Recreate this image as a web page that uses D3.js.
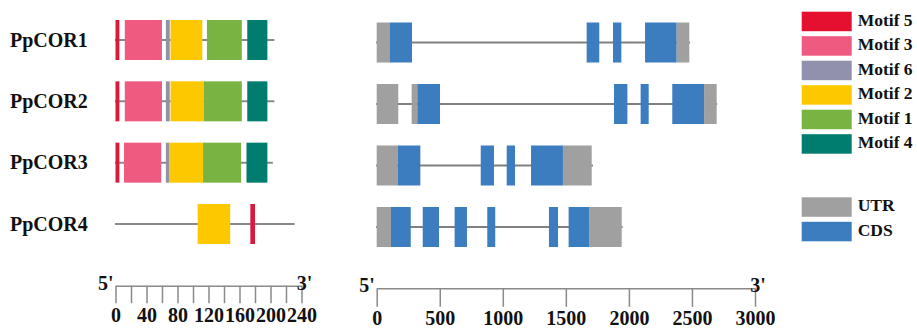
<!DOCTYPE html>
<html>
<head>
<meta charset="utf-8">
<title>PpCOR motifs and gene structure</title>
<style>
body { margin:0; background:#fff; }
text { font-family: "Liberation Serif", "Times New Roman", serif; font-weight:bold; fill:#111; }
</style>
</head>
<body>
<svg></svg>
<script src="https://cdn.jsdelivr.net/npm/d3@7/dist/d3.min.js"></script>
<script>

var w = 917, h = 329;

// ---- data ----
var genes = ["PpCOR1", "PpCOR2", "PpCOR3", "PpCOR4"];

// protein length (aa)
var protLen = [205, 205, 203, 231];

var motifNames  = ["Motif 5", "Motif 3", "Motif 6", "Motif 2", "Motif 1", "Motif 4"];
var motifColors = ["#e5102f", "#ef5a80", "#9190ad", "#fdc800", "#79b443", "#007d6e"];

// motif sites per protein: [motif index, start aa, end aa]
var motifs1 = [[0, 0, 5], [1, 12, 60], [2, 65, 70], [3, 71, 112], [4, 118, 163], [5, 170, 196]];
var motifs2 = [[0, 0, 5], [1, 12, 60], [2, 65, 70], [3, 71, 114], [4, 114, 163], [5, 170, 196]];
var motifs3 = [[0, 0, 5], [1, 11, 59], [2, 65, 69], [3, 69, 113], [4, 113, 162], [5, 169, 196]];
var motifs4 = [[3, 106, 148], [0, 174, 180]];
var motifSites = [motifs1, motifs2, motifs3, motifs4];

// gene length (bp)
var geneLen = [2485, 2700, 1715, 1950];

var featNames  = ["UTR", "CDS"];
var featColors = ["#a0a0a0", "#3b7dbf"];

// gene features: [feature index, start bp, end bp]
var feats1 = [[0, 0, 105], [1, 105, 280], [1, 1665, 1765], [1, 1874, 1940], [1, 2128, 2379], [0, 2379, 2479]];
var feats2 = [[0, 0, 171], [0, 277, 322], [1, 322, 502], [1, 1882, 1988], [1, 2093, 2157], [1, 2344, 2596], [0, 2596, 2696]];
var feats3 = [[0, 0, 166], [1, 166, 346], [1, 825, 930], [1, 1031, 1097], [1, 1224, 1477], [0, 1477, 1705]];
var feats4 = [[0, 0, 113], [1, 113, 270], [1, 365, 494], [1, 618, 716], [1, 877, 940], [1, 1366, 1438], [1, 1522, 1684], [0, 1684, 1943]];
var geneFeats = [feats1, feats2, feats3, feats4];

var aaTicks = d3.range(0, 241, 20);
var aaLabels = [0, 40, 80, 120, 160, 200, 240];
var bpTicks = [0, 500, 1000, 1500, 2000, 2500, 3000];

// ---- scales ----
var svg = d3.select("svg").attr("width", w).attr("height", h);

var xAa = d3.scaleLinear().domain([0, 240]).range([115.5, 301.5]);
var xBp = d3.scaleLinear().domain([0, 3000]).range([376.7, 755]);
var yL = d3.scalePoint().domain(genes).range([40, 224]);
var yR = d3.scalePoint().domain(genes).range([42.5, 227]);
var boxH = 40;

// ---- labels ----
svg.selectAll(".gname").data(genes).enter().append("text")
	.attr("x", 10)
	.attr("y", function(d) { return yL(d) + 6.5; })
	.style("font-size", "20px")
	.text(function(d) { return d; });

// ---- protein motifs ----
var prot = svg.selectAll(".prot").data(genes).enter().append("g")
	.attr("transform", function(d) { return "translate(0," + yL(d) + ")"; });

prot.append("line")
	.attr("x1", xAa(-0.7))
	.attr("x2", function(d, i) { return xAa(protLen[i]); })
	.attr("stroke", "#8a8a8a")
	.attr("stroke-width", 2);

prot.each(function(d, i) {
	d3.select(this).selectAll("rect").data(motifSites[i]).enter().append("rect")
		.attr("x", function(m) { return xAa(m[1]); })
		.attr("width", function(m) { return Math.max(3, xAa(m[2]) - xAa(m[1])); })
		.attr("y", -boxH / 2)
		.attr("height", boxH)
		.attr("fill", function(m) { return m[0] == 0 ? "#d91a3c" : motifColors[m[0]]; });
});

// ---- gene structure ----
var gene = svg.selectAll(".gene").data(genes).enter().append("g")
	.attr("transform", function(d) { return "translate(0," + yR(d) + ")"; });

gene.append("line")
	.attr("x1", xBp(-5))
	.attr("x2", function(d, i) { return xBp(geneLen[i]); })
	.attr("stroke", "#808080")
	.attr("stroke-width", 2);

gene.each(function(d, i) {
	d3.select(this).selectAll("rect").data(geneFeats[i]).enter().append("rect")
		.attr("x", function(f) { return xBp(f[1]); })
		.attr("width", function(f) { return xBp(f[2]) - xBp(f[1]); })
		.attr("y", -boxH / 2)
		.attr("height", boxH)
		.attr("fill", function(f) { return featColors[f[0]]; });
});

// ---- scale bars ----
function scaleBar(x, ticks, labels, y, tickLen, labelY) {
	var ax = d3.axisBottom(x)
		.tickValues(ticks)
		.tickSize(tickLen)
		.tickSizeOuter(0)
		.tickFormat(function(v) { return labels.indexOf(v) >= 0 ? v : ""; });
	var g = svg.append("g").attr("transform", "translate(0," + y + ")").call(ax);
	g.select(".domain").attr("stroke", "#8a8a8a").attr("stroke-width", 1.5);
	g.selectAll(".tick line").attr("stroke", "#8a8a8a").attr("stroke-width", 1.5);
	g.selectAll(".tick text")
		.attr("y", labelY)
		.attr("dy", 0)
		.attr("fill", "#111")
		.style("font-family", "'Liberation Serif', serif")
		.style("font-weight", "bold")
		.style("font-size", "20px");
	var r = x.range();
	g.append("text").attr("x", r[0] - 2).attr("y", 4).attr("text-anchor", "end")
		.style("font-size", "20px").text("5'");
	g.append("text").attr("x", r[1] + 3).attr("y", 4)
		.style("font-size", "20px").text("3'");
	return g;
}
scaleBar(xAa, aaTicks, aaLabels, 285.7, 17.5, 36);
scaleBar(xBp, bpTicks, bpTicks, 288.3, 18.5, 37);

// ---- legend ----
var legItems = motifNames.map(function(n, i) { return { name: n, color: motifColors[i], y: 11.7 + i * 24.5 }; })
	.concat(featNames.map(function(n, i) { return { name: n, color: featColors[i], y: 197.3 + i * 24.5 }; }));

var leg = svg.selectAll(".leg").data(legItems).enter().append("g")
	.attr("transform", function(d) { return "translate(801.7," + d.y + ")"; });
leg.append("rect")
	.attr("width", 50)
	.attr("height", 19.5)
	.attr("fill", function(d) { return d.color; });
leg.append("text")
	.attr("x", 56)
	.attr("y", 14)
	.style("font-size", "17.5px")
	.text(function(d) { return d.name; });

</script>
</body>
</html>
